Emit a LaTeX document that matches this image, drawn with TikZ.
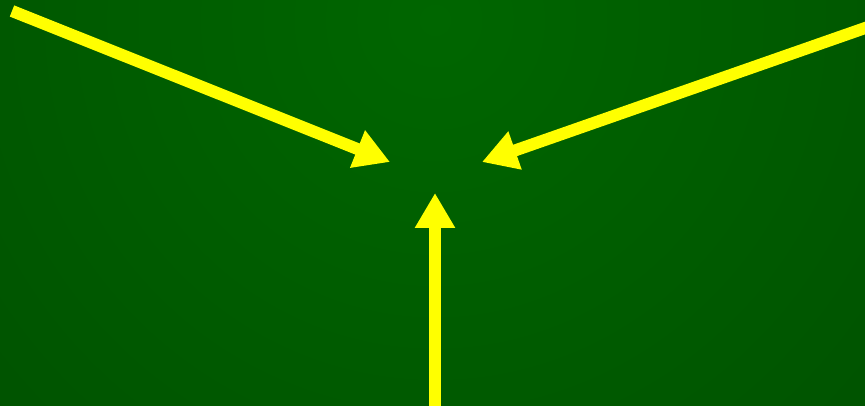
\documentclass[tikz,border=0pt]{standalone}
\usetikzlibrary{arrows.meta}
\definecolor{bgin}{RGB}{0,102,0}
\definecolor{bgout}{RGB}{0,70,0}
\definecolor{arrowyellow}{RGB}{255,255,0}
\tikzset{
  bigarrow/.style={draw=arrowyellow, line width=12pt, line cap=butt,
    -{Triangle[length=35pt,width=38pt]}, fill=arrowyellow}
}
\begin{document}
\begin{tikzpicture}[x=1pt,y=-1pt]
  \useasboundingbox (0,0) rectangle (865,406);
  \begin{scope}
    \clip (0,0) rectangle (865,406);
    \shade[inner color=bgin, outer color=bgout] (435,20) circle[radius=1000];
  \end{scope}
  \coordinate (s1) at (12,11);
  \coordinate (t1) at (390,162);
  \coordinate (s2) at (868,27);
  \coordinate (t2) at (482,162);
  \coordinate (s3) at (435,410);
  \coordinate (t3) at (435,193);
  \draw[bigarrow] (s1) -- (t1);
  \draw[bigarrow] (s2) -- (t2);
  \draw[bigarrow] (s3) -- (t3);
\end{tikzpicture}
\end{document}
